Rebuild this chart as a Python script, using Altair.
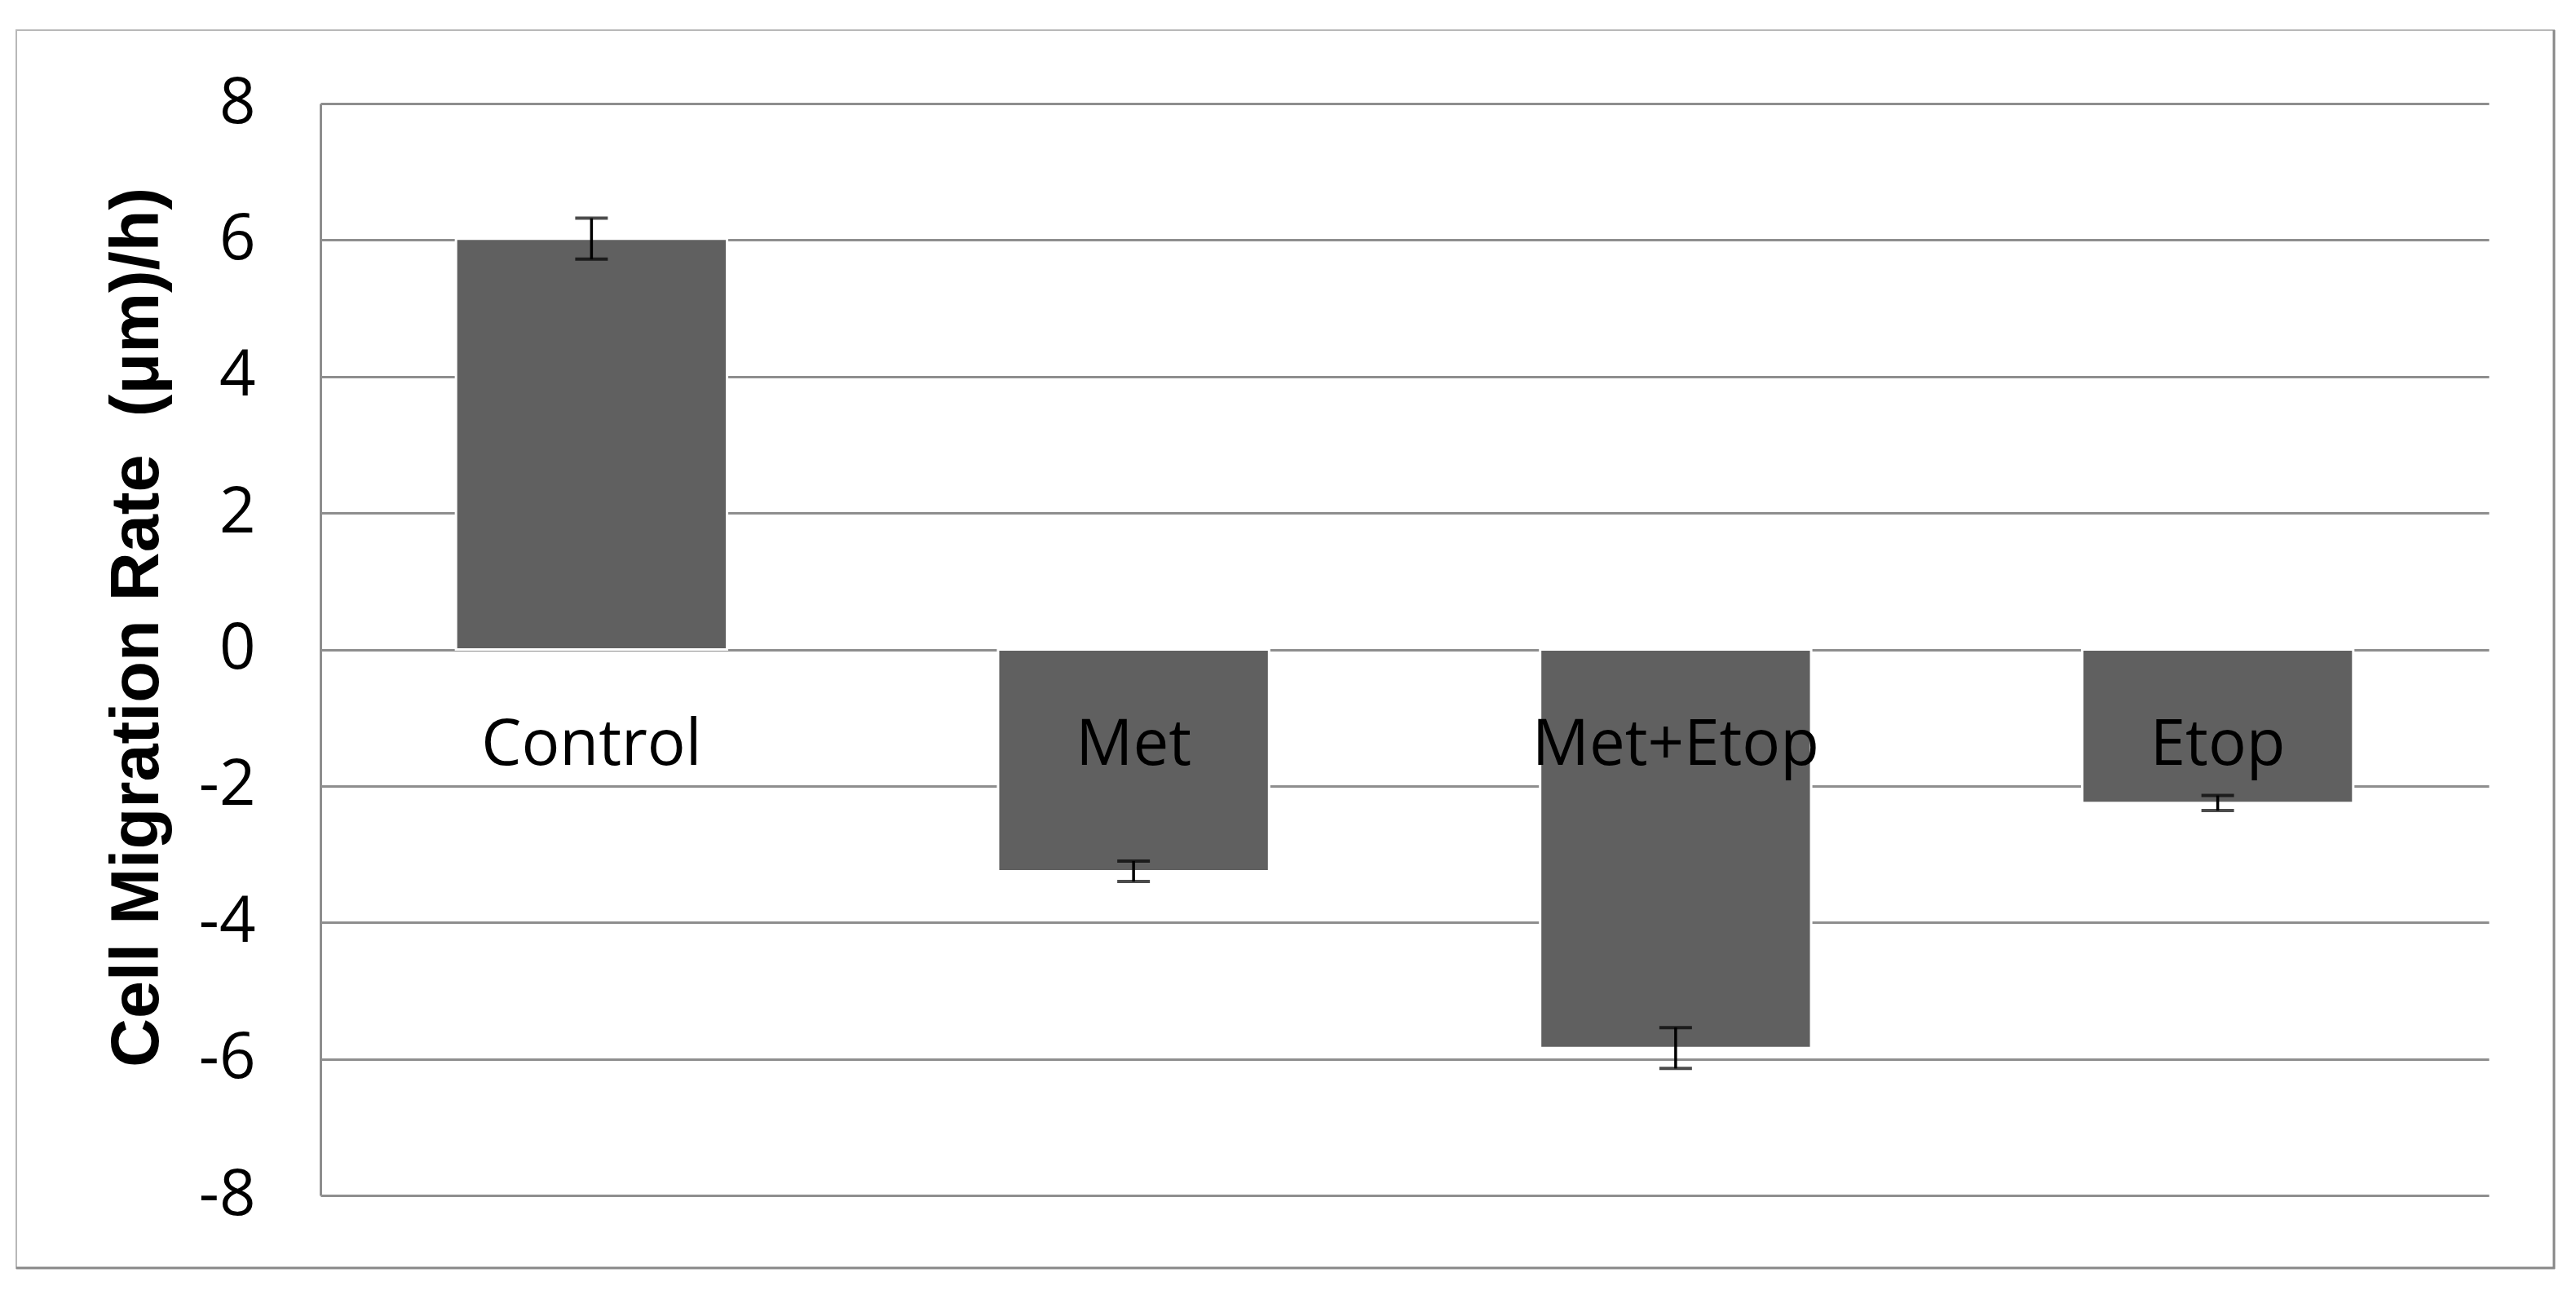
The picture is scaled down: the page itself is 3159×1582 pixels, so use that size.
import altair as alt
import pandas as pd

categories = ["Control", "Met", "Met+Etop", "Etop"]
means = [6.02, -3.25, -5.84, -2.25]
errors = [0.30, 0.15, 0.30, 0.11]
y_ticks = [-8, -6, -4, -2, 0, 2, 4, 6, 8]

df = pd.DataFrame({"category": categories, "mean": means, "err": errors})
df["lo"] = df["mean"] - df["err"]
df["hi"] = df["mean"] + df["err"]

W, H = 2659, 1339
GRID = "#8e8e8e"

x_enc = alt.X(
    "category:N",
    sort=categories,
    title="",
    scale=alt.Scale(paddingInner=0.5, paddingOuter=0.25),
    axis=alt.Axis(
        orient="bottom", offset=-H / 2, domain=False, ticks=False, tickSize=0,
        labelAngle=0, labelPadding=141, labelBaseline="alphabetic",
        labelFont="Open Sans", labelFontSize=78, labelColor="#000000",
        labelLimit=2000, zindex=1, grid=False,
    ),
)
y_scale = alt.Scale(domain=[-8, 8], nice=False, zero=False)

bars = alt.Chart(df).mark_bar(color="#606060", stroke="#ffffff", strokeWidth=3).encode(
    x=x_enc,
    y=alt.Y(
        "mean:Q",
        scale=y_scale,
        axis=alt.Axis(
            values=y_ticks, grid=True, gridColor=GRID, gridWidth=3,
            domain=True, domainColor=GRID, domainWidth=3,
            ticks=False, tickSize=0, labelPadding=80,
            labelExpr="'' + datum.value",
            labelFont="Open Sans", labelFontSize=78, labelColor="#000000",
            labelBaseline="middle",
            title="Cell Migration Rate \u00a0(\u03bcm)/h)",
            titleFont="Liberation Sans", titleFontSize=83, titleFontWeight="bold",
            titleColor="#000000", titleAngle=270, titleX=-200, titleY=642,
            titleAlign="center", titleBaseline="alphabetic",
        ),
    ),
)

rules = alt.Chart(df).mark_rule(color="#000000", strokeWidth=3.5).encode(
    x=alt.X("category:N", sort=categories),
    y=alt.Y("lo:Q", scale=y_scale),
    y2="hi:Q",
)
caps_hi = alt.Chart(df).mark_tick(color="#000000", size=40, thickness=4).encode(
    x=alt.X("category:N", sort=categories),
    y=alt.Y("hi:Q", scale=y_scale),
)
caps_lo = alt.Chart(df).mark_tick(color="#000000", size=40, thickness=4).encode(
    x=alt.X("category:N", sort=categories),
    y=alt.Y("lo:Q", scale=y_scale),
)

one = alt.Data(values=[{"k": 1}])
frame = alt.Chart(one).mark_rect(fillOpacity=0, stroke="#b8b8b8", strokeWidth=2).encode(
    x=alt.value(-373), x2=alt.value(2739), y=alt.value(-90), y2=alt.value(1428)
)
shadow_r = alt.Chart(one).mark_rule(color="#888888", strokeWidth=3).encode(
    x=alt.value(2739), y=alt.value(-90), y2=alt.value(1429)
)
shadow_b = alt.Chart(one).mark_rule(color="#888888", strokeWidth=3).encode(
    y=alt.value(1428), x=alt.value(-373), x2=alt.value(2740)
)

chart = alt.layer(frame, shadow_r, shadow_b, bars, rules, caps_hi, caps_lo).properties(
    width=W, height=H,
    autosize=alt.AutoSizeParams(type="none"),
    padding={"left": 385, "top": 119, "right": 90, "bottom": 100},
    background="#ffffff",
).configure_view(stroke=None)

chart.save("out.html", embed_options={"renderer": "svg", "actions": False})
